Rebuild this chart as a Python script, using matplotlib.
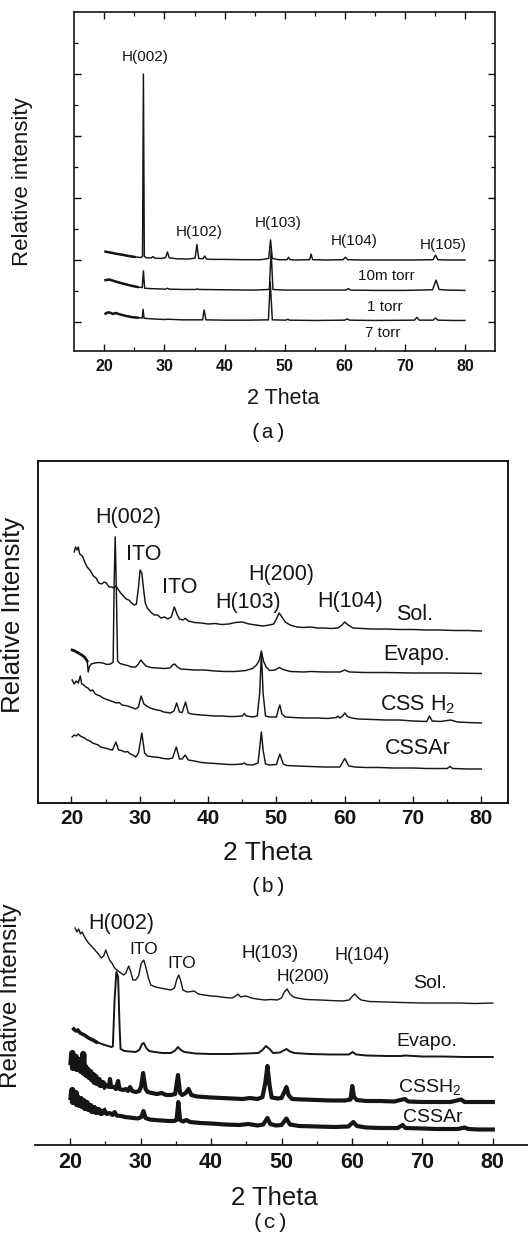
import matplotlib
matplotlib.use('Agg')
import matplotlib.pyplot as plt
from matplotlib.ticker import FixedLocator, NullFormatter

plt.rcParams['font.family'] = ['Liberation Sans', 'DejaVu Sans']
plt.rcParams['mathtext.fontset'] = 'custom'
plt.rcParams['mathtext.rm'] = 'Liberation Sans'
plt.rcParams['mathtext.it'] = 'Liberation Sans:italic'
plt.rcParams['mathtext.bf'] = 'Liberation Sans:bold'

# ---------------- data: panel (a) (2theta, relative intensity, offset traces)
A_10MTORR = [(20.2, 3.27), (21.0, 3.24), (22.0, 3.20), (23.0, 3.17), (24.0, 3.13), (25.0, 3.10),
             (26.1, 3.08), (26.35, 3.12), (26.5, 9.00), (26.65, 3.12), (27.0, 3.07), (27.8, 3.07),
             (28.1, 3.11), (28.4, 3.06), (29.5, 3.05), (30.2, 3.08), (30.5, 3.26), (30.8, 3.07),
             (32.0, 3.04), (34.0, 3.03), (35.1, 3.06), (35.4, 3.50), (35.7, 3.05), (36.4, 3.04),
             (36.7, 3.13), (37.0, 3.03), (38.0, 3.02), (40.0, 3.02), (43.0, 3.01), (46.0, 3.01),
             (47.35, 3.05), (47.65, 3.65), (47.95, 3.05), (49.0, 3.01), (50.4, 3.01), (50.65, 3.09),
             (50.9, 3.01), (52.0, 3.00), (54.15, 3.01), (54.4, 3.19), (54.65, 3.01), (57.0, 3.00),
             (59.7, 3.01), (60.1, 3.09), (60.5, 3.01), (63.0, 3.00), (67.0, 3.00), (71.0, 3.00),
             (74.7, 3.01), (75.1, 3.16), (75.5, 3.01), (77.0, 3.00), (80.0, 3.00)]
A_1TORR = [(20.2, 2.35), (20.8, 2.37), (21.5, 2.33), (22.5, 2.27), (23.5, 2.22), (24.5, 2.17),
           (25.5, 2.13), (26.3, 2.11), (26.5, 2.65), (26.7, 2.09), (27.5, 2.08), (30.2, 2.06),
           (30.5, 2.09), (30.8, 2.06), (33.0, 2.05), (35.3, 2.05), (35.5, 2.07), (35.7, 2.05),
           (40.0, 2.04), (45.0, 2.03), (47.45, 2.05), (47.75, 3.30), (48.05, 2.05), (50.0, 2.03),
           (55.0, 2.03), (60.2, 2.03), (60.6, 2.08), (61.0, 2.03), (65.0, 2.02), (70.0, 2.02),
           (74.6, 2.04), (75.2, 2.35), (75.7, 2.05), (77.0, 2.03), (80.0, 2.02)]
A_7TORR = [(20.2, 1.27), (20.6, 1.31), (21.0, 1.30), (21.4, 1.26), (21.9, 1.29), (22.5, 1.25),
           (23.5, 1.20), (24.5, 1.16), (25.5, 1.14), (26.3, 1.13), (26.45, 1.41), (26.6, 1.12),
           (28.0, 1.10), (30.0, 1.08), (30.5, 1.09), (33.0, 1.07), (36.35, 1.07), (36.6, 1.39),
           (36.9, 1.07), (40.0, 1.06), (44.0, 1.06), (47.3, 1.07), (47.6, 2.30), (47.95, 1.07),
           (50.2, 1.06), (50.5, 1.09), (50.8, 1.06), (55.0, 1.05), (60.0, 1.06), (60.4, 1.10),
           (60.8, 1.06), (65.0, 1.05), (71.6, 1.06), (72.0, 1.15), (72.4, 1.06), (74.7, 1.06),
           (75.1, 1.13), (75.5, 1.06), (78.0, 1.05), (80.0, 1.05)]
A_PEAK_LABELS = [("H(002)", 26.8, 9.55), ("H(102)", 35.8, 3.9), ("H(103)", 48.9, 4.2),
                 ("H(104)", 61.5, 3.6), ("H(105)", 76.4, 3.48)]
A_SERIES_LABELS = [("10m torr", 67.0, 2.5), ("1 torr", 66.6, 1.5), ("7 torr", 66.3, 0.65)]

# ---------------- data: panel (b)
B_SOL = [(20.4, 25.1), (20.6, 25.6), (20.8, 25.3), (21.0, 25.6), (21.2, 24.9), (21.6, 24.7),
         (22.0, 24.0), (22.3, 23.6), (22.8, 23.2), (23.2, 22.7), (23.6, 22.5), (24.0, 22.0),
         (24.4, 21.9), (24.8, 22.1), (25.1, 22.0), (25.5, 21.6), (25.9, 21.6), (26.2, 21.5),
         (26.5, 21.7), (26.8, 21.4), (27.2, 21.0), (27.6, 20.7), (28.0, 20.4), (28.4, 20.3),
         (28.8, 20.0), (29.2, 19.8), (29.5, 19.9), (29.8, 21.5), (30.05, 23.3), (30.3, 23.0),
         (30.55, 21.4), (30.8, 20.0), (31.1, 19.5), (31.6, 19.1), (32.1, 18.8), (32.6, 18.8),
         (33.1, 18.5), (33.6, 18.6), (34.1, 18.4), (34.6, 18.6), (35.05, 19.6), (35.5, 18.8),
         (35.8, 18.4), (36.3, 18.3), (36.7, 18.45), (37.1, 18.2), (38.0, 18.05), (39.0, 18.0),
         (40.0, 17.9), (41.0, 17.95), (42.0, 17.85), (43.0, 17.9), (44.0, 18.05), (45.0, 18.1),
         (46.0, 17.9), (47.0, 17.8), (48.0, 17.7), (49.0, 17.8), (49.6, 17.9), (50.0, 18.4),
         (50.4, 19.0), (50.8, 18.6), (51.3, 18.1), (52.0, 17.8), (53.0, 17.6), (54.0, 17.55),
         (55.0, 17.6), (56.0, 17.5), (57.0, 17.5), (58.0, 17.45), (59.0, 17.5), (59.6, 17.8),
         (60.0, 18.1), (60.5, 17.8), (61.2, 17.5), (62.5, 17.45), (64.0, 17.4), (66.0, 17.4),
         (68.0, 17.35), (70.0, 17.35), (72.0, 17.3), (74.0, 17.3), (76.0, 17.25), (78.0, 17.25),
         (80.0, 17.2)]
B_EVAPO = [(20.1, 15.3), (20.5, 15.2), (21.0, 15.0), (21.5, 14.8), (21.9, 14.6), (22.3, 14.2),
           (22.45, 13.1), (22.6, 13.6), (22.9, 13.9), (23.4, 14.0), (24.0, 14.05), (24.6, 14.0),
           (25.2, 13.85), (25.7, 13.9), (26.1, 14.1), (26.25, 22.0), (26.4, 26.6), (26.55, 22.0),
           (26.75, 14.2), (27.1, 13.95), (27.6, 13.85), (28.2, 13.75), (28.8, 13.6), (29.4, 13.6),
           (29.8, 13.9), (30.15, 14.3), (30.5, 14.0), (30.9, 13.7), (31.6, 13.55), (32.6, 13.5),
           (33.6, 13.45), (34.4, 13.5), (34.8, 13.8), (35.1, 13.9), (35.5, 13.6), (36.0, 13.4),
           (37.0, 13.35), (38.0, 13.3), (39.5, 13.3), (41.0, 13.2), (42.5, 13.15), (44.0, 13.15),
           (45.5, 13.25), (46.5, 13.45), (47.1, 13.8), (47.5, 14.3), (47.8, 15.2), (48.1, 14.2),
           (48.5, 13.6), (49.0, 13.25), (49.8, 13.3), (50.4, 13.55), (51.0, 13.35), (52.0, 13.15),
           (54.0, 13.1), (55.0, 13.15), (57.0, 13.1), (59.3, 13.1), (60.0, 13.3), (60.7, 13.1),
           (63.0, 13.05), (66.0, 13.05), (70.0, 13.0), (75.0, 13.0), (80.0, 12.95)]
B_CSSH2 = [(20.1, 12.3), (20.4, 11.9), (20.7, 12.2), (21.0, 12.0), (21.3, 12.7), (21.5, 11.9),
           (21.8, 11.8), (22.1, 11.6), (22.4, 11.5), (22.8, 11.2), (23.1, 11.3), (23.5, 10.9),
           (23.8, 10.8), (24.2, 10.7), (24.6, 10.5), (25.0, 10.4), (25.4, 10.3), (25.8, 10.2),
           (26.2, 10.1), (26.6, 10.0), (27.0, 10.05), (27.4, 9.8), (27.8, 9.75), (28.2, 9.7),
           (28.6, 9.6), (29.0, 9.5), (29.4, 9.4), (29.8, 9.6), (30.2, 10.7), (30.6, 9.9),
           (31.0, 9.7), (31.5, 9.5), (32.0, 9.4), (32.5, 9.3), (33.0, 9.25), (33.5, 9.1),
           (34.0, 9.05), (34.5, 9.0), (35.0, 9.2), (35.4, 10.0), (35.8, 9.1), (36.2, 9.05),
           (36.7, 10.1), (37.1, 9.0), (37.6, 8.9), (38.2, 8.85), (39.0, 8.8), (40.0, 8.75),
           (41.0, 8.7), (42.0, 8.7), (43.0, 8.65), (44.0, 8.65), (45.0, 8.7), (45.3, 8.95),
           (45.6, 8.7), (46.5, 8.6), (47.2, 8.7), (47.55, 11.0), (47.8, 15.0), (48.05, 11.0),
           (48.4, 8.7), (49.0, 8.6), (50.0, 8.6), (50.3, 9.4), (50.5, 9.8), (50.8, 8.9),
           (51.3, 8.6), (52.5, 8.55), (54.0, 8.5), (56.0, 8.5), (57.5, 8.45), (58.8, 8.55),
           (59.0, 8.7), (59.3, 8.5), (59.7, 8.7), (60.0, 9.0), (60.4, 8.65), (61.0, 8.5),
           (62.0, 8.4), (64.0, 8.35), (66.0, 8.3), (68.0, 8.3), (70.0, 8.2), (72.0, 8.15),
           (72.4, 8.7), (72.8, 8.2), (74.0, 8.15), (75.5, 8.3), (76.5, 8.1), (78.0, 8.05),
           (80.0, 8.0)]
B_CSSAR = [(20.1, 6.6), (20.4, 6.8), (20.7, 6.7), (21.0, 6.9), (21.3, 6.7), (21.6, 6.6),
           (21.9, 6.5), (22.3, 6.3), (22.7, 6.2), (23.1, 6.0), (23.5, 5.9), (23.9, 5.8),
           (24.3, 5.6), (24.8, 5.5), (25.2, 5.45), (25.6, 5.35), (26.0, 5.3), (26.5, 6.1),
           (26.9, 5.3), (27.3, 5.25), (27.8, 5.1), (28.2, 5.15), (28.6, 4.9), (29.0, 4.8),
           (29.4, 4.6), (29.8, 5.0), (30.3, 7.0), (30.7, 5.0), (31.1, 4.7), (31.6, 4.65),
           (32.1, 4.6), (32.8, 4.55), (33.5, 4.45), (34.2, 4.4), (34.8, 4.5), (35.35, 5.6),
           (35.8, 4.4), (36.2, 4.4), (36.65, 4.8), (37.1, 4.3), (38.0, 4.2), (39.0, 4.05),
           (40.0, 4.0), (41.0, 3.95), (42.0, 3.9), (43.0, 3.85), (44.0, 3.85), (45.0, 3.9),
           (45.3, 4.0), (45.6, 3.85), (46.5, 3.8), (47.3, 4.0), (47.55, 5.5), (47.8, 7.1),
           (48.05, 5.3), (48.4, 3.9), (49.0, 3.8), (50.0, 3.85), (50.5, 4.9), (51.0, 3.9),
           (51.5, 3.75), (53.0, 3.7), (55.0, 3.65), (57.0, 3.6), (59.3, 3.6), (60.0, 4.45),
           (60.6, 3.7), (61.5, 3.6), (63.0, 3.55), (65.0, 3.55), (67.0, 3.5), (70.0, 3.5),
           (72.0, 3.45), (75.0, 3.45), (75.4, 3.65), (75.8, 3.45), (78.0, 3.4), (80.0, 3.4)]
B_PEAK_LABELS = [("H(002)", 28.3, 28.5), ("ITO", 30.5, 24.8), ("ITO", 35.85, 21.5),
                 ("H(200)", 50.75, 22.8), ("H(103)", 45.85, 20.0), ("H(104)", 60.75, 20.1)]
B_SERIES_LABELS = [("Sol.", 70.3, 18.8), ("Evapo.", 70.5, 14.8),
                   ("CSS H$_2$", 70.75, 9.8), ("CSSAr", 70.75, 5.5)]

# ---------------- data: panel (c)
C_SOL = [(20.7, 21.7), (20.95, 21.3), (21.2, 21.6), (21.45, 21.1), (21.7, 21.3), (21.9, 21.0),
         (22.2, 20.6), (22.6, 20.2), (23.0, 19.9), (23.5, 19.5), (24.0, 19.1), (24.4, 18.7),
         (24.75, 18.9), (25.05, 19.5), (25.35, 18.9), (25.6, 18.5), (26.0, 18.1), (26.3, 17.7),
         (26.8, 17.4), (27.2, 17.2), (27.6, 17.0), (27.9, 17.2), (28.3, 17.9), (28.6, 17.3),
         (28.9, 16.5), (29.3, 16.5), (29.7, 16.9), (30.1, 18.2), (30.45, 18.5), (30.8, 17.6),
         (31.1, 16.7), (31.45, 16.0), (32.1, 15.8), (32.8, 15.7), (33.5, 15.6), (34.3, 15.5),
         (34.8, 15.7), (35.15, 16.6), (35.4, 17.0), (35.7, 16.4), (36.0, 15.5), (36.6, 15.3),
         (37.2, 15.35), (37.6, 15.4), (38.2, 15.1), (39.0, 15.0), (40.0, 14.9), (41.0, 14.85),
         (42.0, 14.75), (43.0, 14.7), (43.5, 14.9), (43.8, 15.1), (44.2, 14.8), (44.8, 14.9),
         (45.2, 14.85), (45.7, 14.7), (46.5, 14.6), (47.6, 14.5), (48.5, 14.55), (49.4, 14.5),
         (50.0, 14.7), (50.4, 15.3), (50.8, 15.6), (51.2, 15.1), (51.7, 14.8), (52.2, 14.7),
         (53.5, 14.55), (55.5, 14.5), (57.0, 14.45), (58.7, 14.4), (59.6, 14.5), (60.1, 14.9),
         (60.4, 15.1), (60.8, 14.8), (61.3, 14.5), (62.5, 14.35), (64.8, 14.3), (67.0, 14.25),
         (69.9, 14.2), (72.0, 14.2), (75.0, 14.2), (77.5, 14.15), (80.0, 14.2)]
C_EVAPO = [(20.5, 11.6), (20.8, 11.4), (21.1, 11.5), (21.4, 11.2), (22.0, 11.0), (22.6, 10.7),
           (23.2, 10.5), (23.7, 10.3), (24.3, 10.15), (24.9, 10.0), (25.4, 9.9), (25.85, 9.8),
           (26.05, 9.85), (26.3, 14.5), (26.55, 17.3), (26.8, 16.8), (27.0, 12.0), (27.15, 9.6),
           (27.7, 9.4), (28.5, 9.35), (29.3, 9.3), (29.8, 9.5), (30.2, 10.1), (30.45, 10.2),
           (30.8, 9.7), (31.2, 9.4), (32.0, 9.3), (33.1, 9.2), (34.3, 9.2), (34.9, 9.45),
           (35.3, 9.8), (35.7, 9.5), (36.2, 9.3), (37.8, 9.15), (40.0, 9.1), (42.4, 9.1),
           (45.0, 9.15), (46.7, 9.2), (47.3, 9.5), (47.8, 9.9), (48.3, 9.6), (48.8, 9.2),
           (49.8, 9.25), (50.3, 9.45), (50.7, 9.6), (51.2, 9.35), (51.8, 9.2), (54.0, 9.1),
           (57.0, 9.05), (59.6, 9.05), (60.1, 9.3), (60.6, 9.05), (62.0, 8.95), (65.0, 8.9),
           (67.0, 8.9), (67.5, 8.95), (70.0, 8.85), (73.0, 8.85), (76.0, 8.8), (80.0, 8.8)]
C_CSSH2 = [(20.2, 8.3), (20.3, 9.2), (20.4, 7.7), (20.5, 8.6), (20.65, 7.9), (20.8, 8.8),
           (20.95, 7.6), (21.1, 8.2), (21.25, 7.7), (21.4, 8.5), (21.55, 7.4), (21.75, 8.0),
           (21.85, 9.1), (21.95, 7.2), (22.15, 7.8), (22.3, 7.0), (22.5, 7.5), (22.7, 6.8),
           (22.85, 7.3), (23.05, 6.6), (23.25, 7.0), (23.45, 6.3), (23.6, 6.8), (23.8, 6.2),
           (24.05, 6.5), (24.3, 6.0), (24.6, 6.2), (24.9, 5.9), (25.2, 6.0), (25.5, 5.8),
           (25.65, 6.6), (25.8, 5.8), (26.2, 5.8), (26.5, 5.6), (26.8, 6.4), (27.0, 5.6),
           (27.5, 5.5), (27.9, 5.6), (28.2, 5.4), (28.5, 5.8), (28.8, 5.4), (29.3, 5.3),
           (29.8, 5.4), (30.05, 5.8), (30.35, 7.2), (30.7, 5.6), (31.0, 5.3), (31.6, 5.2),
           (32.3, 5.1), (33.0, 5.2), (33.6, 5.0), (34.3, 5.0), (34.9, 5.1), (35.3, 7.0),
           (35.6, 5.2), (35.9, 5.0), (36.4, 5.2), (36.8, 5.6), (37.2, 5.0), (38.0, 4.85),
           (39.0, 4.8), (40.0, 4.75), (41.5, 4.7), (43.0, 4.65), (44.5, 4.6), (45.5, 4.7),
           (46.6, 4.6), (47.3, 4.8), (47.7, 6.2), (48.0, 7.9), (48.3, 6.0), (48.6, 4.75),
           (49.5, 4.65), (50.0, 4.7), (50.4, 5.3), (50.7, 5.8), (51.0, 5.0), (51.5, 4.6),
           (53.0, 4.55), (55.0, 4.5), (57.0, 4.45), (59.0, 4.45), (59.8, 4.55), (60.05, 5.9),
           (60.3, 4.8), (60.7, 4.5), (62.0, 4.4), (64.0, 4.4), (66.0, 4.35), (67.5, 4.6),
           (68.0, 4.35), (70.0, 4.3), (72.0, 4.3), (74.0, 4.3), (75.5, 4.55), (76.0, 4.3),
           (78.0, 4.3), (80.0, 4.3)]
C_CSSAR = [(20.2, 4.8), (20.3, 5.5), (20.4, 4.3), (20.5, 5.1), (20.65, 4.3), (20.8, 5.2),
           (20.95, 4.1), (21.1, 4.7), (21.3, 4.0), (21.5, 4.6), (21.7, 3.9), (21.9, 4.4),
           (22.1, 3.7), (22.35, 4.2), (22.6, 3.6), (22.85, 3.9), (23.1, 3.4), (23.4, 3.7),
           (23.7, 3.3), (24.0, 3.5), (24.4, 3.2), (24.8, 3.35), (25.2, 3.1), (25.6, 3.2),
           (26.0, 3.0), (26.3, 3.3), (26.6, 2.95), (27.2, 2.9), (27.8, 2.8), (28.4, 2.75),
           (29.0, 2.7), (29.6, 2.65), (30.1, 2.8), (30.4, 3.4), (30.7, 2.7), (31.3, 2.55),
           (32.0, 2.5), (33.0, 2.45), (34.0, 2.4), (34.8, 2.4), (35.1, 2.5), (35.35, 4.3),
           (35.6, 2.5), (36.0, 2.35), (36.5, 2.5), (37.0, 2.3), (38.5, 2.2), (40.0, 2.15),
           (42.0, 2.05), (44.0, 2.0), (45.3, 2.1), (46.6, 1.95), (47.4, 2.05), (48.0, 2.7),
           (48.4, 2.1), (49.2, 1.95), (50.0, 2.0), (50.7, 2.65), (51.2, 2.05), (52.5, 1.9),
           (55.0, 1.85), (57.5, 1.8), (59.5, 1.85), (60.2, 2.3), (60.7, 1.9), (62.0, 1.75),
           (64.0, 1.7), (66.5, 1.7), (67.2, 2.0), (67.6, 1.7), (70.0, 1.65), (72.0, 1.6),
           (75.0, 1.6), (76.0, 1.75), (76.5, 1.6), (78.0, 1.55), (80.0, 1.55)]
C_PEAK_LABELS = [("H(002)", 27.3, 22.2, 15.5), ("ITO", 30.5, 19.5, 12.5), ("ITO", 35.85, 18.2, 12.5),
                 ("H(103)", 48.4, 19.2, 13.5), ("H(104)", 61.5, 19.0, 13.0), ("H(200)", 53.1, 16.8, 12.5)]
C_SERIES_LABELS = [("Sol.", 71.1, 16.2), ("Evapo.", 70.6, 10.3),
                   ("CSSH$_2$", 71.1, 5.8), ("CSSAr", 71.5, 2.8)]

X_TICKS = [20, 30, 40, 50, 60, 70, 80]
X_MINOR = [25, 35, 45, 55, 65, 75]

# ---------------- figure
W, H = 528, 1235
fig = plt.figure(figsize=(W / 100, H / 100), dpi=100)
INK = '#151515'
MONO = ['Liberation Mono', 'DejaVu Sans Mono']


def xy(pairs):
    return [p[0] for p in pairs], [p[1] for p in pairs]


def style_x(ax, size, pad=4):
    ax.xaxis.set_major_locator(FixedLocator(X_TICKS))
    ax.xaxis.set_minor_locator(FixedLocator(X_MINOR))
    ax.tick_params(axis='x', which='major', direction='in', length=5, width=1.0,
                   labelsize=size, pad=pad, colors=INK)
    ax.tick_params(axis='x', which='minor', direction='in', length=3, width=0.9, colors=INK)
    for lab in ax.get_xticklabels():
        lab.set_fontweight('bold')


# ===== panel (a)
axA = fig.add_axes([74 / W, 1 - 351 / H, 421 / W, 339 / H])
axA.set_xlim(14.95, 85.0)
axA.set_ylim(0.065, 11.0)
for pairs in (A_10MTORR, A_1TORR, A_7TORR):
    x, y = xy(pairs)
    axA.plot(x, y, color=INK, lw=1.05)
    axA.plot([v for v in x if v < 26], [w for v, w in zip(x, y) if v < 26], color=INK, lw=1.8)
style_x(axA, 11.5, pad=6)
axA.tick_params(axis='x', which='both', top=True)
axA.yaxis.set_major_locator(FixedLocator([1, 3, 5, 7, 9]))
axA.yaxis.set_minor_locator(FixedLocator([2, 4, 6, 8, 10]))
axA.yaxis.set_major_formatter(NullFormatter())
axA.tick_params(axis='y', which='major', direction='in', length=5, width=1.0, left=True, right=True)
axA.tick_params(axis='y', which='minor', direction='in', length=3, width=0.9, left=True, right=True)
for s in axA.spines.values():
    s.set_linewidth(1.2)
    s.set_color(INK)
for t, x, y in A_PEAK_LABELS:
    axA.text(x, y, t, ha='center', va='center', fontsize=11, color=INK)
for t, x, y in A_SERIES_LABELS:
    axA.text(x, y, t, ha='center', va='center', fontsize=11, color=INK)
fig.text(283 / W, 1 - 398 / H, "2 Theta", ha='center', va='center', fontsize=15.5, color=INK)
fig.text(23 / W, 1 - 182 / H, "Relative intensity", rotation=90, ha='center', va='center',
         fontsize=16, color=INK)
fig.text(268 / W, 1 - 433 / H, "(a)", ha='center', va='center', fontsize=15,
         family=MONO, color=INK)

# ===== panel (b)
axB = fig.add_axes([38 / W, 1 - 803 / H, 470 / W, 342 / H])
axB.set_xlim(15.1, 83.9)
axB.set_ylim(0, 34.2)
for pairs in (B_SOL, B_EVAPO, B_CSSH2, B_CSSAR):
    x, y = xy(pairs)
    axB.plot(x, y, color=INK, lw=1.05)
x, y = xy(B_EVAPO)
axB.plot([v for v in x if v < 22.4], [w for v, w in zip(x, y) if v < 22.4], color=INK, lw=2.0)
style_x(axB, 15, pad=4)
axB.set_yticks([])
for s in axB.spines.values():
    s.set_linewidth(1.4)
    s.set_color(INK)
for t, x, y in B_PEAK_LABELS:
    axB.text(x, y, t, ha='center', va='center', fontsize=15.5, color=INK)
for t, x, y in B_SERIES_LABELS:
    axB.text(x, y, t, ha='center', va='center', fontsize=15.5, color=INK)
fig.text(268 / W, 1 - 853 / H, "2 Theta", ha='center', va='center', fontsize=19, color=INK)
fig.text(13 / W, 1 - 615 / H, "Relative Intensity", rotation=90, ha='center', va='center',
         fontsize=18.5, color=INK)
fig.text(268 / W, 1 - 887 / H, "(b)", ha='center', va='center', fontsize=15,
         family=MONO, color=INK)

# ===== panel (c)
axC = fig.add_axes([35 / W, 1 - 1145 / H, 493 / W, 260 / H])
axC.set_xlim(15.0, 85.0)
axC.set_ylim(0, 26)
x, y = xy(C_SOL)
axC.plot(x, y, color=INK, lw=1.0)
x, y = xy(C_EVAPO)
axC.plot(x, y, color=INK, lw=1.4)
axC.plot([v for v in x if v < 24], [w for v, w in zip(x, y) if v < 24], color=INK, lw=2.6)
for pairs in (C_CSSH2, C_CSSAR):
    x, y = xy(pairs)
    axC.plot(x, y, color=INK, lw=3.0)
    axC.plot([v for v in x if v < 25], [w for v, w in zip(x, y) if v < 25], color=INK, lw=4.5)
style_x(axC, 15.5, pad=5)
axC.set_yticks([])
for k in ('left', 'right', 'top'):
    axC.spines[k].set_visible(False)
axC.spines['bottom'].set_linewidth(1.3)
axC.spines['bottom'].set_color(INK)
axC.patch.set_alpha(0)
for t, x, y, fs in C_PEAK_LABELS:
    axC.text(x, y, t, ha='center', va='center', fontsize=fs, color=INK)
for t, x, y in C_SERIES_LABELS:
    axC.text(x, y, t, ha='center', va='center', fontsize=14, color=INK)
fig.text(274 / W, 1 - 1198 / H, "2 Theta", ha='center', va='center', fontsize=18.5, color=INK)
fig.text(11 / W, 1 - 996 / H, "Relative Intensity", rotation=90, ha='center', va='center',
         fontsize=17.5, color=INK)
fig.text(270 / W, 1 - 1223 / H, "(c)", ha='center', va='center', fontsize=15,
         family=MONO, color=INK)

fig.savefig("out.png", dpi=100)
